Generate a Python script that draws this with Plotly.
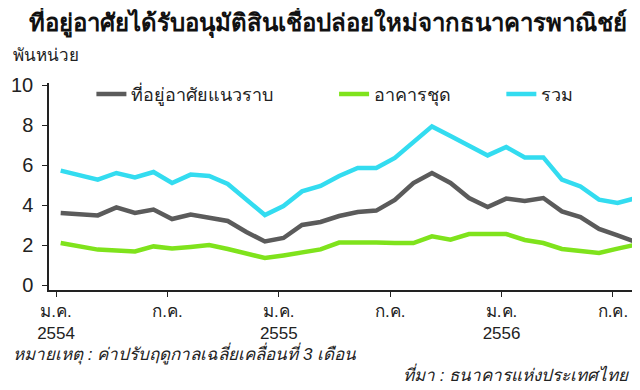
import plotly.graph_objects as go

months = list(range(32))  # Jan 2554 .. Aug 2556
low_rise = [3.6, 3.55, 3.48, 3.88, 3.6, 3.77, 3.3, 3.52, 3.38, 3.2, 2.65, 2.18,
            2.35, 3.0, 3.15, 3.45, 3.65, 3.72, 4.25, 5.1, 5.6, 5.1, 4.35, 3.9,
            4.32, 4.2, 4.35, 3.68, 3.4, 2.8, 2.48, 2.15]
condo = [2.1, 1.92, 1.77, 1.72, 1.68, 1.93, 1.82, 1.9, 2.0, 1.8, 1.58, 1.35,
         1.48, 1.62, 1.78, 2.12, 2.15, 2.13, 2.1, 2.1, 2.43, 2.27, 2.55, 2.55,
         2.55, 2.25, 2.1, 1.8, 1.7, 1.6, 1.82, 2.02]
total = [5.72, 5.5, 5.27, 5.6, 5.38, 5.65, 5.1, 5.52, 5.45, 5.05, 4.3, 3.5,
         3.95, 4.68, 4.95, 5.45, 5.85, 5.85, 6.35, 7.15, 7.93, 7.45, 6.95, 6.48,
         6.9, 6.38, 6.38, 5.27, 4.93, 4.27, 4.1, 4.35]
series_names = ["ที่อยู่อาศัยแนวราบ", "อาคารชุด", "รวม"]
tick_pos = [-0.25, 5.75, 11.75, 17.75, 23.75, 29.75]
tick_text = ["ม.ค.<br>2554", "ก.ค.", "ม.ค.<br>2555", "ก.ค.", "ม.ค.<br>2556", "ก.ค."]

colors = ["#5b5b5b", "#7fe31c", "#33dcf0"]
FONT = "Liberation Sans, Noto Sans, sans-serif"
legend_ids = ["legend", "legend2", "legend3"]
legend_x = [0.072, 0.484, 0.768]

fig = go.Figure()
for name, vals, c, lg in zip(series_names, [low_rise, condo, total], colors, legend_ids):
    fig.add_trace(go.Scatter(x=months, y=vals, mode="lines", name=name,
                             line=dict(color=c, width=4.5), legend=lg))

leg_common = dict(orientation="h", y=1.035, xanchor="left", yanchor="top",
                  font=dict(size=18, color="#222"), bgcolor="rgba(0,0,0,0)")
fig.update_layout(
    width=640, height=390,
    margin=dict(l=41, r=10, t=75, b=108),
    paper_bgcolor="white", plot_bgcolor="white",
    font=dict(family=FONT, size=17, color="#222"),
    showlegend=True,
    legend=dict(x=legend_x[0], **leg_common),
    legend2=dict(x=legend_x[1], **leg_common),
    legend3=dict(x=legend_x[2], **leg_common),
    title=dict(text="<b>ที่อยู่อาศัยได้รับอนุมัติสินเชื่อปล่อยใหม่จากธนาคารพาณิชย์</b>",
               x=0.5, xanchor="center", y=0.985, yanchor="top",
               font=dict(size=24, color="#111")),
)
fig.update_xaxes(range=[-0.63, 31.1], tickvals=tick_pos, ticktext=tick_text,
                 showgrid=False, zeroline=False, showline=True, linecolor="#222",
                 linewidth=1.5, ticks="outside", ticklen=5, tickcolor="#222",
                 tickfont=dict(size=17), automargin=False)
fig.update_yaxes(range=[-0.25, 10.1], tickvals=[0, 2, 4, 6, 8, 10],
                 showgrid=False, zeroline=False, showline=True, linecolor="#222",
                 linewidth=1.5, ticks="outside", ticklen=5, tickcolor="#222",
                 tickfont=dict(size=20), ticklabelstandoff=5, automargin=False)

fig.add_annotation(text="พันหน่วย", xref="paper", yref="paper", x=-0.065, y=1.0,
                   yshift=28, xanchor="left", yanchor="middle", showarrow=False,
                   font=dict(size=17, color="#222"))
fig.add_annotation(text="<i>หมายเหตุ : ค่าปรับฤดูกาลเฉลี่ยเคลื่อนที่ 3 เดือน</i>",
                   xref="paper", yref="paper", x=-0.065, y=0, yshift=-63,
                   xanchor="left", yanchor="middle", showarrow=False,
                   font=dict(size=17, color="#222"))
fig.add_annotation(text="<i>ที่มา : ธนาคารแห่งประเทศไทย</i>",
                   xref="paper", yref="paper", x=0.988, y=0, yshift=-84,
                   xanchor="right", yanchor="middle", showarrow=False,
                   font=dict(size=17, color="#222"))

fig.write_html("out.html")
